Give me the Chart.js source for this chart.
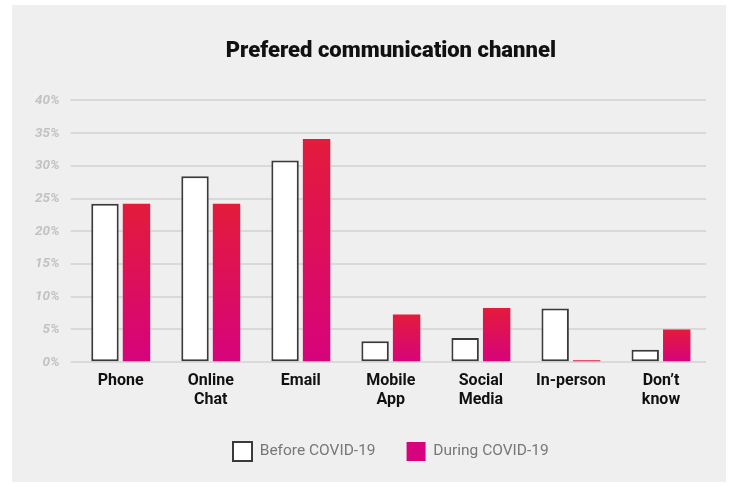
<!DOCTYPE html>
<html>
<head>
<meta charset="utf-8">
<script src="https://cdn.jsdelivr.net/npm/chart.js@4"></script>
<style>
    body { margin: 0; background: #ffffff; }
    #panel {
        position: absolute;
        left: 12px;
        top: 5px;
        width: 714px;
        height: 477px;
        background: #efefef;
    }
</style>
</head>
<body>
<div id="panel">
    <canvas id="chart" width="714" height="477"></canvas>
</div>
<script>
const categories = ["Phone", ["Online", "Chat"], "Email", ["Mobile", "App"], ["Social", "Media"], "In-person", ["Don\u2019t", "know"]];
const beforeCovid = [24.2, 28.4, 30.8, 3.2, 3.7, 8.2, 1.9];
const duringCovid = [24.2, 24.2, 34.1, 7.3, 8.3, 0.3, 5.0];
const yTicks = [0, 5, 10, 15, 20, 25, 30, 35, 40];

function barGradient(context) {
    if (context.type !== "data") {
        return "#e2104f";
    }
    const chart = context.chart;
    if (!chart.chartArea) {
        return "#e2104f";
    }
    const y = chart.scales.y;
    const top = y.getPixelForValue(context.raw);
    const bottom = y.getPixelForValue(0);
    const grad = chart.ctx.createLinearGradient(0, top, 0, bottom);
    grad.addColorStop(0, "#e31b3b");
    grad.addColorStop(1, "#d6037c");
    return grad;
}

const ctx = document.getElementById("chart").getContext("2d");
new Chart(ctx, {
    type: "bar",
    data: {
        labels: categories,
        datasets: [{
            label: "Before COVID-19",
            data: beforeCovid,
            backgroundColor: "#ffffff",
            borderColor: "#3a3a3a",
            borderWidth: 2,
            borderSkipped: false
        }, {
            label: "During COVID-19",
            data: duringCovid,
            backgroundColor: barGradient,
            borderWidth: 0
        }]
    },
    options: {
        responsive: false,
        animation: false,
        datasets: {
            bar: {
                categoryPercentage: 0.7,
                barPercentage: 0.87
            }
        },
        layout: {
            padding: { top: 0, right: 20, bottom: 11, left: 12 }
        },
        plugins: {
            title: {
                display: true,
                fullSize: false,
                text: "Prefered communication channel",
                color: "#111111",
                font: { family: "Roboto", size: 22, weight: "900" },
                padding: { top: 33, bottom: 36 }
            },
            legend: {
                position: "bottom",
                fullSize: false,
                labels: {
                    boxWidth: 19,
                    boxHeight: 19,
                    padding: 31,
                    color: "#777777",
                    font: { family: "Roboto", size: 15.5 }
                }
            },
            tooltip: { enabled: false }
        },
        scales: {
            x: {
                grid: { display: false },
                border: { display: false },
                ticks: {
                    color: "#111111",
                    font: { family: "Roboto", size: 16, weight: "bold", lineHeight: 1.15 },
                    maxRotation: 0,
                    padding: 2
                }
            },
            y: {
                min: 0,
                max: 40,
                afterBuildTicks: (axis) => {
                    axis.ticks = yTicks.map(v => ({ value: v }));
                },
                grid: {
                    color: "#d9d9d9",
                    lineWidth: 2,
                    tickLength: 5
                },
                border: { display: false },
                ticks: {
                    color: "#c2c2c2",
                    padding: 11,
                    font: { family: "Roboto", size: 13.5, style: "italic", weight: "bold" },
                    callback: (value) => value + "%"
                }
            }
        }
    }
});
</script>
</body>
</html>
